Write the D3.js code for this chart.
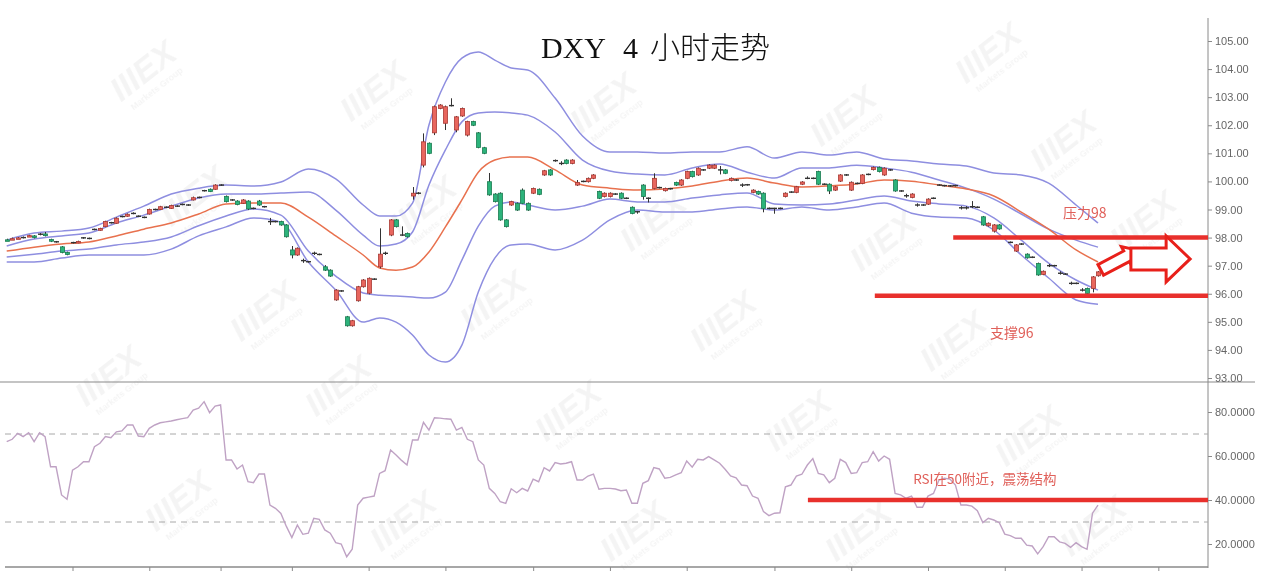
<!DOCTYPE html>
<html><head><meta charset="utf-8">
<script src="https://cdn.jsdelivr.net/npm/d3@7/dist/d3.min.js"></script>
<style>
html,body{margin:0;padding:0;background:#fff;}
svg{display:block;}
</style></head><body>
<svg id="c" width="1280" height="581"></svg>
<script>
// ---------- DATA ----------
const title = ["DXY", "4", "小时走势"];
// [open, close, high, low] for each 4H candle
const candles = [
[97.92,97.91,97.96,97.88],[97.95,97.96,98.0,97.92],[97.97,97.99,98.02,97.95],[98.0,98.0,98.04,97.97],[98.06,98.07,98.1,98.03],
[98.06,98.0,98.09,97.97],[98.12,98.12,98.16,98.08],[98.13,98.07,98.2,98.04],[97.93,97.87,97.96,97.84],[97.85,97.85,97.88,97.82],
[97.67,97.47,97.7,97.44],[97.47,97.40,97.5,97.37],[97.82,97.82,97.85,97.79],[97.82,97.86,97.89,97.8],[97.99,97.99,98.02,97.96],
[97.97,97.97,98.0,97.94],[98.29,98.29,98.32,98.26],[98.26,98.32,98.35,98.24],[98.39,98.57,98.6,98.37],[98.53,98.53,98.56,98.5],
[98.51,98.69,98.72,98.49],[98.75,98.75,98.78,98.72],[98.76,98.83,98.86,98.74],[98.86,98.86,98.9,98.83],[98.76,98.76,98.79,98.73],
[98.72,98.72,98.75,98.69],[98.84,99.0,99.03,98.82],[99.0,99.0,99.03,98.97],[99.0,99.1,99.13,98.98],[99.08,99.08,99.11,99.05],
[99.04,99.14,99.17,99.02],[99.12,99.12,99.15,99.09],[99.18,99.18,99.21,99.15],[99.16,99.16,99.19,99.13],[99.34,99.42,99.46,99.32],
[99.43,99.43,99.46,99.4],[99.67,99.67,99.7,99.64],[99.72,99.64,99.75,99.62],[99.72,99.87,99.9,99.7],[99.87,99.87,99.9,99.84],
[99.46,99.28,99.5,99.25],[99.34,99.34,99.37,99.31],[99.30,99.18,99.33,99.15],[99.22,99.34,99.37,99.2],[99.30,99.02,99.33,98.98],
[99.04,99.04,99.07,99.01],[99.30,99.16,99.34,99.13],[99.10,99.10,99.13,99.07],[98.57,98.57,98.7,98.45],[98.57,98.57,98.6,98.54],
[98.57,98.45,98.6,98.42],[98.45,98.03,98.48,98.0],[97.56,97.38,97.7,97.26],[97.38,97.62,97.65,97.35],[97.18,97.18,97.25,97.1],
[97.14,97.14,97.17,97.11],[97.44,97.44,97.5,97.38],[97.40,97.40,97.43,97.37],[96.96,96.84,97.02,96.81],[96.84,96.63,96.87,96.6],
[95.78,96.13,96.16,95.75],[96.10,96.10,96.13,96.07],[95.18,94.86,95.21,94.83],[94.86,95.04,95.07,94.83],[95.75,96.25,96.28,95.72],
[96.25,96.49,96.52,96.22],[96.02,96.55,96.58,95.98],[96.52,96.52,96.55,96.49],[96.96,97.41,98.33,96.9],[97.44,97.44,97.5,97.38],
[98.09,98.63,98.66,98.05],[98.63,98.39,98.66,98.36],[98.09,98.09,98.4,98.06],[98.15,98.03,98.18,98.0],[99.48,99.58,99.8,99.35],
[99.58,99.58,99.62,99.54],[100.58,101.41,101.71,100.5],[101.36,101.0,101.39,100.97],[101.73,102.66,102.7,101.65],[102.6,102.72,102.75,102.57],
[102.07,102.66,102.7,101.83],[102.70,102.70,102.96,102.67],[101.83,102.30,102.33,101.75],[102.33,102.60,102.63,102.3],[101.65,102.13,102.16,101.6],
[102.13,102.00,102.16,101.97],[101.73,101.21,101.76,101.18],[101.20,101.0,101.23,100.97],[99.99,99.52,100.3,99.49],[99.55,99.28,99.58,99.25],
[99.58,98.63,99.61,98.6],[98.63,98.39,98.66,98.36],[99.16,99.28,99.31,99.13],[99.22,98.98,99.25,98.95],[99.69,99.22,99.75,99.19],
[99.22,98.98,99.25,98.95],[99.58,99.75,99.78,99.55],[99.72,99.54,99.75,99.51],[100.23,100.38,100.41,100.2],[100.41,100.23,100.44,100.2],
[100.74,100.74,100.78,100.7],[100.64,100.64,100.72,100.58],[100.76,100.64,100.79,100.61],[100.64,100.76,100.79,100.61],[99.87,99.96,100.05,99.84],
[100.0,100.0,100.03,99.97],[99.99,100.11,100.14,99.96],[100.11,100.23,100.26,100.08],[99.64,99.40,99.67,99.37],[99.46,99.58,99.61,99.43],
[99.46,99.58,99.61,99.43],[99.55,99.55,99.58,99.52],[99.58,99.40,99.61,99.37],[99.40,99.40,99.43,99.37],[99.08,98.86,99.11,98.83],
[98.92,98.92,98.95,98.85],[99.87,99.46,99.9,99.35],[99.40,99.40,99.43,99.25],[99.75,100.11,100.29,99.72],[99.78,99.78,99.81,99.75],
[99.67,99.75,99.78,99.64],[99.74,99.74,99.77,99.71],[99.96,99.87,99.99,99.84],[99.87,100.05,100.08,99.84],[100.11,100.35,100.38,100.08],
[100.35,100.17,100.38,100.14],[100.23,100.47,100.5,100.2],[100.41,100.41,100.44,100.38],[100.47,100.58,100.61,100.44],[100.47,100.58,100.61,100.44],
[100.41,100.41,100.55,100.25],[100.41,100.29,100.44,100.26],[100.03,100.11,100.14,100.0],[100.05,100.05,100.08,100.02],[99.87,99.87,99.93,99.8],
[99.88,99.88,99.91,99.85],[99.61,99.69,99.72,99.58],[99.64,99.55,99.67,99.52],[99.58,99.04,99.61,98.9],[99.04,99.04,99.07,99.01],
[99.04,99.04,99.06,98.85],[99.04,99.04,99.07,99.01],[99.46,99.58,99.61,99.43],[99.62,99.62,99.65,99.59],[99.61,99.81,99.84,99.58],
[99.90,99.98,100.01,99.87],[100.11,100.11,100.18,100.08],[100.11,100.11,100.14,100.08],[100.35,99.90,100.38,99.87],[99.90,99.90,99.93,99.87],
[99.90,99.66,99.93,99.55],[99.69,99.81,99.84,99.66],[100.01,100.23,100.26,99.98],[100.23,100.23,100.26,100.2],[99.69,99.97,100.0,99.66],
[99.93,99.93,99.96,99.9],[99.93,100.23,100.26,99.9],[100.25,100.25,100.28,100.22],[100.42,100.50,100.53,100.39],[100.50,100.35,100.53,100.32],
[100.23,100.47,100.5,100.2],[100.41,100.41,100.44,100.38],[100.05,99.66,100.08,99.63],[99.66,99.66,99.69,99.63],[99.49,99.49,99.56,99.42],
[99.43,99.55,99.58,99.4],[99.16,99.16,99.22,99.1],[99.16,99.16,99.19,99.13],[99.19,99.37,99.4,99.16],[99.40,99.40,99.43,99.37],
[99.87,99.87,99.9,99.84],[99.85,99.85,99.88,99.82],[99.84,99.84,99.87,99.81],[99.85,99.85,99.88,99.82],[99.06,99.06,99.12,99.0],
[99.06,99.06,99.12,99.0],[99.10,99.10,99.3,99.05],[99.08,99.08,99.11,99.05],[98.74,98.45,98.77,98.42],[98.42,98.51,98.54,98.39],
[98.23,98.45,98.48,98.18],[98.45,98.31,98.48,98.28],[98.03,98.03,98.06,98.0],[97.83,97.83,97.86,97.8],[97.52,97.74,97.77,97.49],
[97.77,97.77,97.8,97.74],[97.41,97.28,97.44,97.25],[97.30,97.30,97.33,97.27],[97.08,96.67,97.11,96.64],[96.69,96.80,96.83,96.66],
[97.0,97.0,97.06,96.95],[97.0,97.0,97.03,96.97],[96.73,96.73,96.8,96.68],[96.70,96.70,96.73,96.67],[96.37,96.37,96.43,96.32],
[96.37,96.37,96.4,96.34],[96.13,96.13,96.2,96.08],[96.19,96.01,96.22,95.98],[96.19,96.60,96.63,96.05],[96.64,96.78,96.81,96.61]
];
// Bollinger bands, at these candle indices
const bandIdx = [0,5,10,15,20,25,30,35,40,45,50,55,60,65,68,71,74,77,80,83,86,89,92,95,100,105,110,115,120,125,130,135,140,145,150,155,160,165,170,175,180,185,190,195,199];
const upper2 = [97.91,98.16,98.23,98.34,98.73,99.12,99.55,99.76,99.87,99.84,99.98,100.44,100.09,99.16,98.77,98.77,99.23,102.01,103.54,104.39,104.61,104.32,104.04,103.97,102.97,101.62,101.05,101.05,101.01,101.05,101.05,101.23,100.83,101.05,100.94,101.05,100.80,100.73,100.62,100.55,100.30,100.23,99.94,99.16,98.52];
const upper1 = [97.70,97.95,98.06,98.16,98.52,98.80,99.12,99.41,99.55,99.55,99.59,99.62,98.98,98.09,97.70,97.77,98.20,99.87,101.12,102.12,102.44,102.47,102.44,102.36,101.76,100.76,100.37,100.26,100.23,100.48,100.62,100.33,100.12,100.48,100.48,100.58,100.48,100.33,100.05,99.76,99.37,98.84,98.30,97.91,97.66];
const middle = [97.52,97.66,97.77,97.84,98.06,98.30,98.52,98.84,99.20,99.23,99.23,98.73,98.06,97.38,96.92,96.84,96.95,97.49,98.38,99.34,100.33,100.76,100.87,100.87,100.41,99.87,99.76,99.69,99.73,99.84,100.01,100.12,99.94,99.80,99.84,99.91,100.05,100.01,99.87,99.73,99.48,98.91,98.30,97.56,97.13];
const lower1 = [97.31,97.41,97.52,97.59,97.74,97.84,98.02,98.42,98.77,99.02,98.80,97.52,96.63,96.03,95.95,95.92,95.88,95.85,96.06,97.20,98.41,99.12,99.27,99.16,98.98,99.12,99.37,99.27,99.27,99.41,99.52,99.59,99.20,99.16,99.20,99.34,99.48,99.30,99.20,99.12,98.70,97.91,97.09,96.49,96.13];
const lower2 = [97.13,97.13,97.27,97.38,97.38,97.38,97.59,98.06,98.38,98.70,98.55,97.13,96.13,94.99,95.14,94.99,94.53,93.82,93.57,94.17,96.06,97.27,97.74,97.77,97.56,97.91,98.63,98.98,98.91,98.91,99.02,99.09,98.98,99.09,98.98,99.09,99.23,98.87,98.73,98.70,98.27,97.38,96.56,95.78,95.63];
// RSI, one value per candle
const rsi = [66.5,67.6,70.3,68.8,70.6,66.5,70.6,68.8,55.1,55.1,42.3,40.3,53.6,55.1,57.4,57.4,64.2,65.8,68.8,68.3,
71.0,71.4,74.1,74.1,69.1,68.8,72.6,74.1,75.1,75.5,75.9,76.5,77.0,77.4,80.9,81.7,84.7,79.7,82.7,83.2,
58.2,58.2,54.1,55.9,48.3,47.9,51.8,51.8,37.7,36.2,33.9,28.0,22.9,28.6,24.4,24.9,31.7,31.2,26.4,24.9,
20.6,20.0,14.2,17.6,37.7,40.8,41.3,41.8,52.1,53.3,62.7,60.5,58.0,55.9,67.3,67.3,75.3,71.8,77.4,77.2,
76.9,76.7,71.8,73.0,67.6,66.5,58.2,55.9,45.3,43.0,39.2,38.5,45.1,43.3,45.3,44.1,49.5,48.3,54.7,53.2,
57.0,56.4,56.7,57.4,49.1,49.1,50.9,51.8,44.9,45.3,45.3,45.0,44.2,44.5,38.5,38.5,47.6,48.8,54.7,54.1,
49.9,50.3,51.4,52.4,57.7,54.9,58.5,58.2,59.7,58.2,56.7,54.0,50.9,50.1,46.8,46.5,41.8,40.8,34.7,32.9,
34.0,34.2,46.0,46.8,50.9,51.7,55.9,58.8,52.1,51.4,47.9,49.9,58.5,57.0,52.1,52.4,57.0,57.4,62.0,57.7,
60.0,58.5,43.0,42.3,40.8,41.8,36.7,36.7,41.8,43.0,49.1,49.9,49.5,46.8,37.7,37.7,37.2,35.1,29.7,31.7,
30.9,29.7,24.5,23.8,22.6,22.6,19.5,19.1,15.5,18.8,23.3,23.3,21.0,20.3,18.5,20.6,18.8,17.6,34.0,37.7];
const priceTicks = [105,104,103,102,101,100,99,98,97,96,95,94,93];
const rsiTicks = [80,60,40,20];
const rsiLevels = [70,30];
const timeTicks = [12,26,39,52,66,80,96,110,124,140,154,168,182,196,210];
// annotations
const resistance = {level: 98, from: 172.6, label: "压力98", lx: 192.6, ly: 98.70};
const support = {level: 95.93, from: 158.3, label: "支撑96", lx: 179.3, ly: 94.42};
const rsiNote = {level: 40, from: 146.1, label: "RSI在50附近，震荡结构", lx: 165.3, ly: 47.3};

// ---------- LAYOUT ----------
const svg = d3.select('#c');
const axisX = 1208;
const x = d3.scaleLinear().domain([0, 199]).range([6.7, 1098]);
const y = d3.scaleLinear().domain([93, 105]).range([378, 41]);
const yr = d3.scaleLinear().domain([20, 80]).range([544, 412]);
const RED = '#e8302c';

svg.append('defs').append('clipPath').attr('id','clipAll')
  .append('rect').attr('x',0).attr('y',0).attr('width',1262).attr('height',581);
const root = svg.append('g').attr('clip-path','url(#clipAll)');

// watermark
const wm = root.append('g').attr('fill','#000').attr('opacity',0.045).attr('font-family','Liberation Sans, Arial').attr('font-weight','bold').attr('font-style','italic');
const wmPos = [[150,80],[380,100],[610,112],[850,125],[995,62],[1070,150],[200,205],[430,215],[660,230],[890,250],[1150,230],[270,320],[500,310],[730,330],[960,350],[115,385],[345,395],[575,420],[805,430],[1035,445],[185,510],[410,530],[640,540],[865,540],[1100,535]];
wmPos.forEach(p=>{
  const g = wm.append('g').attr('transform',`translate(${p[0]},${p[1]}) rotate(-38)`);
  g.append('text').attr('text-anchor','middle').attr('font-size',34).text('IIIEX');
  g.append('text').attr('text-anchor','middle').attr('y',14).attr('font-size',9).attr('font-style','normal').text('Markets Group');
});

// frame lines
root.append('line').attr('x1',axisX).attr('x2',axisX).attr('y1',18).attr('y2',568).attr('stroke','#8a8a8a').attr('stroke-width',1);
root.append('line').attr('x1',0).attr('x2',1255).attr('y1',382).attr('y2',382).attr('stroke','#8a8a8a').attr('stroke-width',1.2);
root.append('line').attr('x1',5).attr('x2',axisX).attr('y1',567).attr('y2',567).attr('stroke','#8a8a8a').attr('stroke-width',1.5);

// axes
const ax1 = root.append('g').attr('transform',`translate(${axisX},0)`)
  .call(d3.axisRight(y).tickValues(priceTicks).tickFormat(d3.format('.2f')).tickSize(4).tickPadding(3));
const ax2 = root.append('g').attr('transform',`translate(${axisX},0)`)
  .call(d3.axisRight(yr).tickValues(rsiTicks).tickFormat(d=>d.toFixed(4)).tickSize(4).tickPadding(3));
const ax3 = root.append('g').attr('transform','translate(0,567)')
  .call(d3.axisBottom(x).tickValues(timeTicks).tickFormat('').tickSize(4));
[ax1,ax2,ax3].forEach(a=>{
  a.select('.domain').remove();
  a.selectAll('line').attr('stroke','#8a8a8a');
  a.selectAll('text').attr('fill','#666').attr('font-size',11).attr('font-family','Liberation Sans, Arial, sans-serif');
});

// title
const tt = root.append('text').attr('y',58).attr('font-size',30).attr('fill','#111')
  .attr('font-family','Liberation Serif, "Noto Serif CJK SC", "Noto Sans CJK SC", serif');
tt.append('tspan').attr('x',541).text(title[0]);
tt.append('tspan').attr('x',623).text(title[1]);
tt.append('tspan').attr('x',650).attr('font-family','"Noto Sans CJK SC", sans-serif').attr('font-weight',300).text(title[2]);

// bollinger bands
const bandLine = d3.line().x(d=>x(d[0])).y(d=>y(d[1])).curve(d3.curveMonotoneX);
const mk = arr => bandIdx.map((i,k)=>[i,arr[k]]);
[[upper2,'#8e8ee0'],[upper1,'#8e8ee0'],[lower1,'#8e8ee0'],[lower2,'#8e8ee0'],[middle,'#e8714e']].forEach(([arr,col])=>{
  root.append('path').attr('d',bandLine(mk(arr))).attr('fill','none').attr('stroke',col).attr('stroke-width',1.5);
});

// candles
const cg = root.append('g');
const bw = 4;
candles.forEach((c,i)=>{
  const [o,cl,h,l] = c;
  const cx = Math.round(x(i))+0.5;
  const up = cl > o, flat = Math.abs(cl-o) < 0.005;
  cg.append('line').attr('x1',cx).attr('x2',cx).attr('y1',y(h)).attr('y2',y(l)).attr('stroke','#333').attr('stroke-width',1);
  if (flat) {
    cg.append('line').attr('x1',cx-2.5).attr('x2',cx+2.5).attr('y1',y(o)).attr('y2',y(o)).attr('stroke','#333').attr('stroke-width',1.4);
  } else {
    const top = y(Math.max(o,cl)), bot = y(Math.min(o,cl));
    cg.append('rect').attr('x',cx-bw/2).attr('width',bw).attr('y',top).attr('height',Math.max(1.5,bot-top))
      .attr('fill', up ? '#e8665e' : '#2cb37b').attr('stroke', up ? '#a83a34' : '#1c7d52').attr('stroke-width',0.8);
  }
});

// annotation lines (price)
[resistance, support].forEach(a=>{
  root.append('line').attr('x1',x(a.from)).attr('x2',axisX).attr('y1',y(a.level)).attr('y2',y(a.level)).attr('stroke',RED).attr('stroke-width',4.5);
  root.append('text').attr('x',x(a.lx)).attr('y',y(a.ly)).attr('fill','#e0605a').attr('font-size',14)
    .attr('font-family','"Noto Sans CJK SC", sans-serif').text(a.label);
});

// arrows
function arrowPts(x0,y0,x1,y1,bwid,hw,hl){
  const dx=x1-x0, dy=y1-y0, L=Math.hypot(dx,dy), ux=dx/L, uy=dy/L, nx=-uy, ny=ux;
  const bx=x1-ux*hl, by=y1-uy*hl;
  const P=(px,py)=>[px,py];
  return [P(x0+nx*bwid,y0+ny*bwid),P(bx+nx*bwid,by+ny*bwid),P(bx+nx*hw,by+ny*hw),P(x1,y1),
          P(bx-nx*hw,by-ny*hw),P(bx-nx*bwid,by-ny*bwid),P(x0-nx*bwid,y0-ny*bwid)];
}
const arrows = [[199.5,96.85,206.3,97.55,6,11,13],[205,97.24,215.8,97.24,11,23,24]];
arrows.forEach(a=>{
  const pts = arrowPts(x(a[0]),y(a[1]),x(a[2]),y(a[3]),a[4],a[5],a[6]);
  root.append('polygon').attr('points',pts.map(p=>p.join(',')).join(' ')).attr('fill','#fff').attr('stroke','#e8201a').attr('stroke-width',3).attr('stroke-linejoin','miter');
});

// RSI panel
rsiLevels.forEach(v=>{
  root.append('line').attr('x1',5).attr('x2',axisX).attr('y1',yr(v)).attr('y2',yr(v)).attr('stroke','#a8a8a8').attr('stroke-width',1).attr('stroke-dasharray','6,5');
});
root.append('path').attr('d', d3.line().x((d,i)=>x(i)).y(d=>yr(d))(rsi)).attr('fill','none').attr('stroke','#bfa2c4').attr('stroke-width',1.4);
root.append('line').attr('x1',x(rsiNote.from)).attr('x2',axisX).attr('y1',yr(rsiNote.level)).attr('y2',yr(rsiNote.level)).attr('stroke',RED).attr('stroke-width',4.5);
root.append('text').attr('x',x(rsiNote.lx)).attr('y',yr(rsiNote.ly)).attr('fill','#e0605a').attr('font-size',13.5)
  .attr('font-family','"Noto Sans CJK SC", sans-serif').text(rsiNote.label);
</script>
</body></html>
